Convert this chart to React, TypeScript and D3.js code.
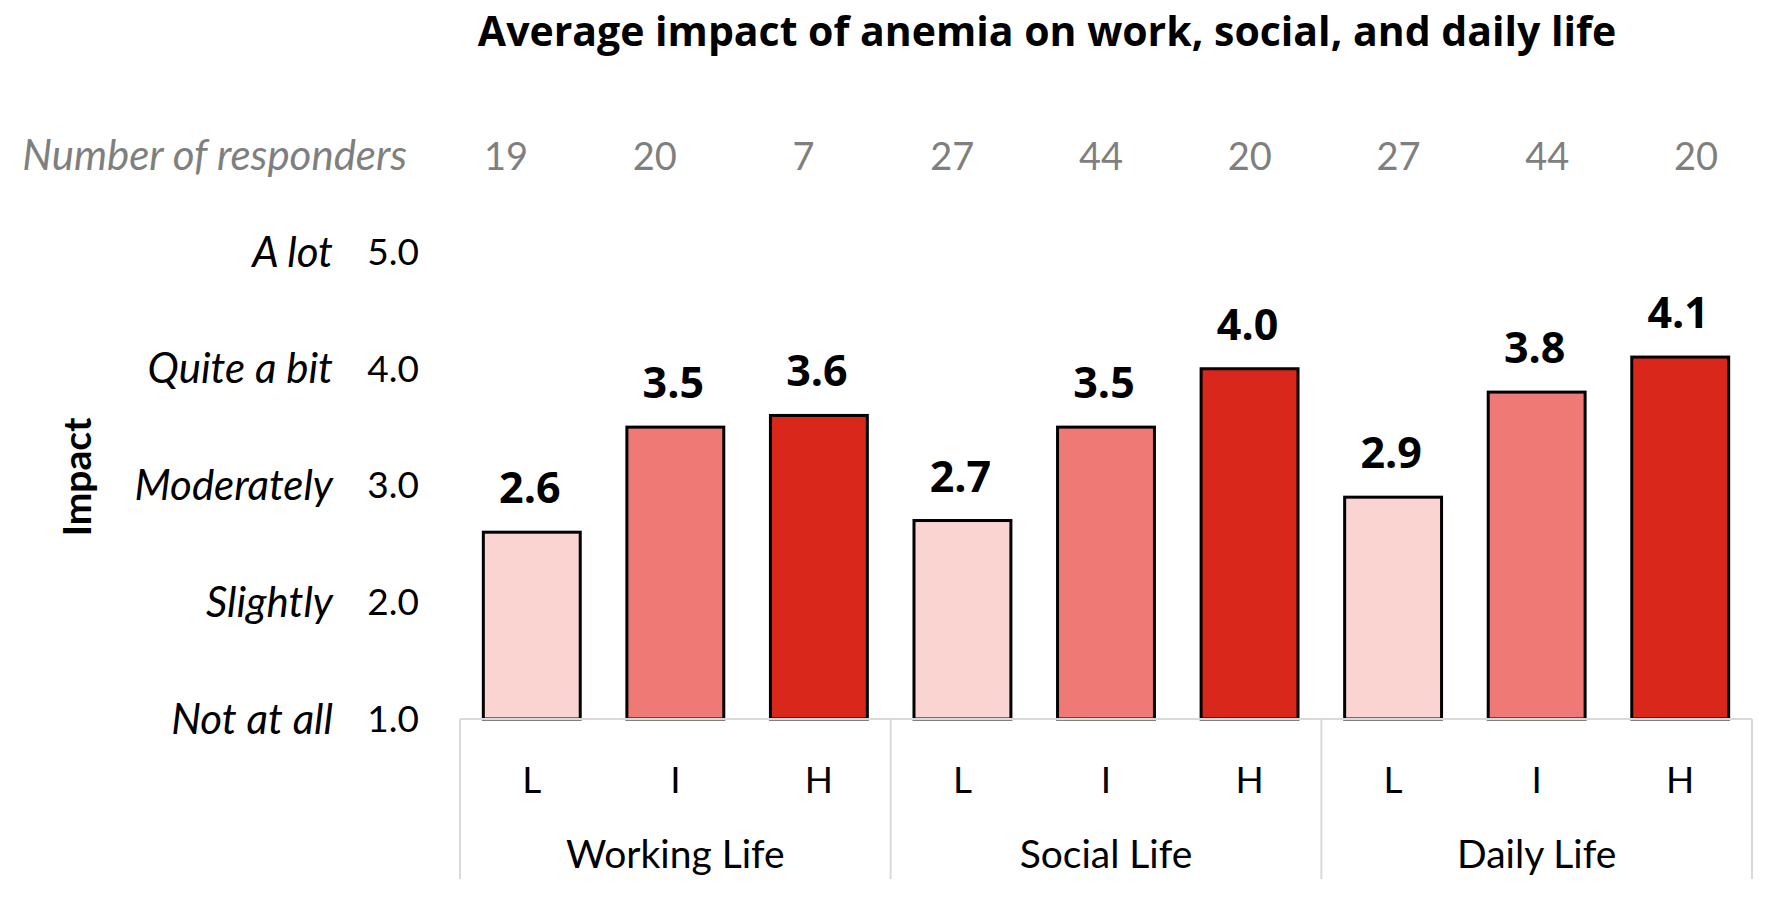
import { useEffect } from "react";
import * as d3 from "d3";

// ── Data ──────────────────────────────────────────────────────────────────────

const GROUPS = ["Working Life", "Social Life", "Daily Life"];
const LEVELS = ["L", "I", "H"];
const IMPACT = [
  [2.6, 3.5, 3.6],
  [2.7, 3.5, 4.0],
  [2.9, 3.8, 4.1],
];
const RESPONDERS = [
  [19, 20, 7],
  [27, 44, 20],
  [27, 44, 20],
];
const TICKS = [1, 2, 3, 4, 5];
const TICK_NAMES = ["Not at all", "Slightly", "Moderately", "Quite a bit", "A lot"];

// ── Config ────────────────────────────────────────────────────────────────────

const W = 1772;
const H = 905;
const PLOT = { left: 460, right: 1752, top: 252, bottom: 719, base: 879 };
const FILL: Record<string, string> = { L: "#f9d4d1", I: "#ef7a75", H: "#d9271c" };
const SANS = "Lato, 'Open Sans', sans-serif";
const BOLD = "'Open Sans', sans-serif";
const GREY = "#7f7f7f";

// ── Component ─────────────────────────────────────────────────────────────────

const App = () => {
  useEffect(() => {
    document.body.style.margin = "0";
  }, []);

  const xGroup = d3.scaleBand<string>()
    .domain(GROUPS)
    .range([PLOT.left, PLOT.right]);

  const xLevel = d3.scaleBand<string>()
    .domain(LEVELS)
    .range([0, xGroup.bandwidth()])
    .paddingInner(0.325)
    .paddingOuter(0.1625);

  const y = d3.scaleLinear().domain([1, 5]).range([PLOT.bottom, PLOT.top]);

  const bars = GROUPS.flatMap((g, gi) =>
    LEVELS.map((l, li) => ({
      group: g,
      level: l,
      value: IMPACT[gi][li],
      n: RESPONDERS[gi][li],
      x: (xGroup(g) ?? 0) + (xLevel(l) ?? 0),
    }))
  );
  const bw = xLevel.bandwidth();

  // responder row is its own table row, spaced a bit wider than the bars
  const xCount = d3.scalePoint<number>()
    .domain(d3.range(bars.length))
    .range([506, 1696]);

  return (
    <svg width={W} height={H} style={{ display: "block", background: "#fff" }}>
      {/* Title */}
      <text x={1047} y={46} textAnchor="middle" fontFamily={BOLD} fontWeight={700} fontSize={41}>
        Average impact of anemia on work, social, and daily life
      </text>

      {/* Responder counts */}
      <text x={407} y={170} textAnchor="end" fontFamily={SANS} fontStyle="italic" fontSize={42} fill={GREY}>
        Number of responders
      </text>
      {bars.map((b, i) => (
        <text key={`n${i}`} x={xCount(i)} y={170} textAnchor="middle" fontFamily={SANS} fontSize={38} fill={GREY}>
          {b.n}
        </text>
      ))}

      {/* Y axis ticks */}
      {TICKS.map((t, i) => (
        <g key={`t${t}`} transform={`translate(0,${y(t)})`}>
          <text x={419} dy="0.35em" textAnchor="end" fontFamily={SANS} fontSize={37}>
            {d3.format(".1f")(t)}
          </text>
          <text x={333} dy="0.35em" textAnchor="end" fontFamily={SANS} fontStyle="italic" fontSize={42}>
            {TICK_NAMES[i]}
          </text>
        </g>
      ))}
      <text
        transform={`translate(77,477) rotate(-90)`} textAnchor="middle" dy="0.35em"
        fontFamily={SANS} fontWeight={700} fontSize={39}
      >
        Impact
      </text>

      {/* Bars */}
      {bars.map((b, i) => (
        <g key={`b${i}`}>
          <rect
            x={b.x} y={y(b.value)} width={bw} height={y(1) - y(b.value)}
            fill={FILL[b.level]} stroke="#000" strokeWidth={3}
          />
          <text
            x={b.x + bw / 2 - 2} y={y(b.value) - 29} textAnchor="middle"
            fontFamily={BOLD} fontWeight={700} fontSize={43}
          >
            {d3.format(".1f")(b.value)}
          </text>
          <text x={b.x + bw / 2} y={793} textAnchor="middle" fontFamily={SANS} fontSize={37}>
            {b.level}
          </text>
        </g>
      ))}

      {/* Category axis */}
      <line x1={PLOT.left} x2={PLOT.right} y1={PLOT.bottom} y2={PLOT.bottom} stroke="#d9d9d9" strokeWidth={2} />
      {[...GROUPS.map((g) => xGroup(g) ?? 0), PLOT.right].map((x, i) => (
        <line key={`s${i}`} x1={x} x2={x} y1={PLOT.bottom} y2={PLOT.base} stroke="#d9d9d9" strokeWidth={2} />
      ))}
      {GROUPS.map((g) => (
        <text
          key={g} x={(xGroup(g) ?? 0) + xGroup.bandwidth() / 2} y={868} textAnchor="middle"
          fontFamily={SANS} fontSize={39}
        >
          {g}
        </text>
      ))}
    </svg>
  );
};

export default App;
